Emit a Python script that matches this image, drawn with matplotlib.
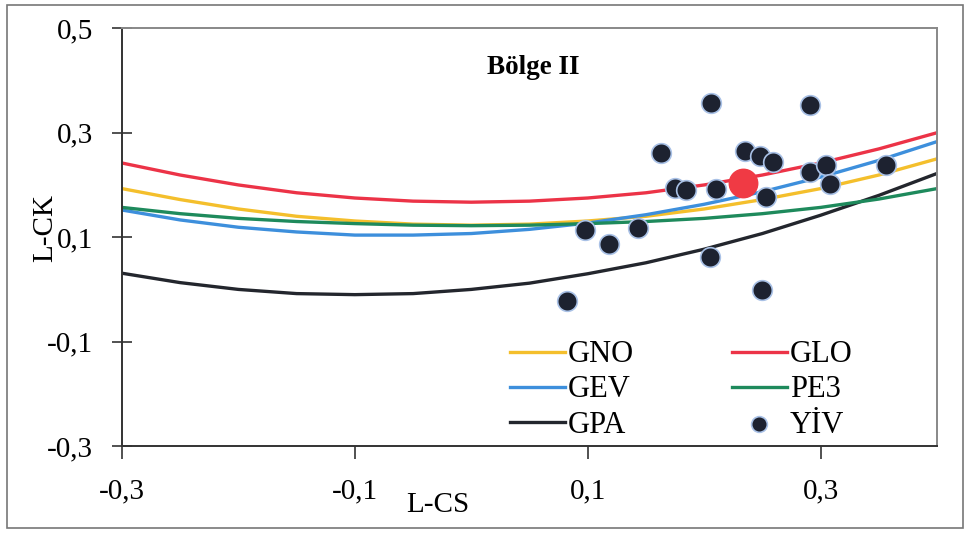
import numpy as np
import matplotlib
matplotlib.use("Agg")
import matplotlib.pyplot as plt
from matplotlib.ticker import FuncFormatter
from matplotlib.patches import Rectangle

plt.rcParams['font.family'] = ['Liberation Serif', 'DejaVu Serif']

# L-skewness grid and L-kurtosis values of the theoretical curves
t3 = [-0.30, -0.25, -0.20, -0.15, -0.10, -0.05, 0.00, 0.05,
      0.10, 0.15, 0.20, 0.25, 0.30, 0.35, 0.40]
gno = [0.193, 0.172, 0.154, 0.140, 0.131, 0.125, 0.123, 0.125,
       0.131, 0.140, 0.154, 0.172, 0.193, 0.219, 0.250]
glo = [0.242, 0.219, 0.200, 0.185, 0.175, 0.169, 0.167, 0.169,
       0.175, 0.185, 0.200, 0.219, 0.242, 0.269, 0.300]
gev = [0.152, 0.133, 0.119, 0.110, 0.104, 0.104, 0.107, 0.115,
       0.127, 0.143, 0.163, 0.187, 0.215, 0.247, 0.283]
pe3 = [0.157, 0.145, 0.136, 0.130, 0.126, 0.123, 0.122, 0.123,
       0.126, 0.130, 0.136, 0.145, 0.157, 0.173, 0.193]
gpa = [0.031, 0.013, 0.000, -0.008, -0.010, -0.008, 0.000, 0.012,
       0.030, 0.051, 0.077, 0.107, 0.142, 0.180, 0.222]

# station L-moment ratios (YİV)
st_cs = [0.206, 0.291, 0.163, 0.235, 0.248, 0.259, 0.175, 0.184, 0.210, 0.253,
         0.291, 0.305, 0.308, 0.356, 0.098, 0.118, 0.143, 0.205, 0.250, 0.082]
st_ck = [0.356, 0.353, 0.262, 0.265, 0.255, 0.244, 0.195, 0.190, 0.192, 0.177,
         0.225, 0.239, 0.201, 0.239, 0.113, 0.087, 0.118, 0.062, -0.002, -0.023]

# regional average
reg_cs = [0.233]
reg_ck = [0.203]

fig = plt.figure(figsize=(9.68, 5.33), dpi=100)
ax = fig.add_axes([0.126, 0.163, 0.842, 0.784])

lw = 2.4
ax.plot(t3, gno, color='#f4bf2c', lw=lw, label='GNO')
ax.plot(t3, gev, color='#3d8fdc', lw=lw, label='GEV')
ax.plot(t3, gpa, color='#23262d', lw=lw, label='GPA')
ax.plot(t3, glo, color='#ec3347', lw=lw, label='GLO')
ax.plot(t3, pe3, color='#1e8a5c', lw=lw, label='PE3')
ax.scatter(st_cs, st_ck, s=200, color='#1d2230', edgecolors='#a9c1e6',
           linewidths=1.2, zorder=5, label='YİV')
ax.scatter(reg_cs, reg_ck, s=420, color='#f03a44', zorder=6)

ax.set_xlim(-0.3, 0.4)
ax.set_ylim(-0.3, 0.5)
ax.set_xticks([-0.3, -0.1, 0.1, 0.3])
ax.set_yticks([-0.3, -0.1, 0.1, 0.3, 0.5])
fmt = FuncFormatter(lambda v, p: ('%.1f' % v).replace('.', ','))
ax.xaxis.set_major_formatter(fmt)
ax.yaxis.set_major_formatter(fmt)
ax.tick_params(axis='both', labelsize=21, length=9, width=1.2, color='#333333')
ax.tick_params(axis='y', direction='inout', length=14, pad=14)
ax.tick_params(axis='x', direction='out', pad=14)

for s in ['left', 'bottom']:
    ax.spines[s].set_color('#333333')
    ax.spines[s].set_linewidth(1.4)
for s in ['top', 'right']:
    ax.spines[s].set_color('#888888')
    ax.spines[s].set_linewidth(1.4)

ax.set_xlabel('L-CS', fontsize=21)
ax.xaxis.set_label_coords(0.387, -0.11)
ax.set_ylabel('L-CK', fontsize=21)
ax.yaxis.set_label_coords(-0.0785, 0.523)

ax.text(0.504, 0.905, 'Bölge II', transform=ax.transAxes, fontsize=19.5,
        fontweight='bold', ha='center', va='center')

ax.legend(loc='lower right', bbox_to_anchor=(0.93, -0.05), ncol=2, frameon=False,
          fontsize=22, handlelength=1.8, handletextpad=0.1, columnspacing=3.2,
          labelspacing=0.2, markerscale=0.8)

fig.patches.append(Rectangle((7 / 968, 5 / 533), 956 / 968, 523 / 533,
                             transform=fig.transFigure, fill=False,
                             edgecolor='#777777', lw=1.2))

fig.savefig('out.png', dpi=100)
